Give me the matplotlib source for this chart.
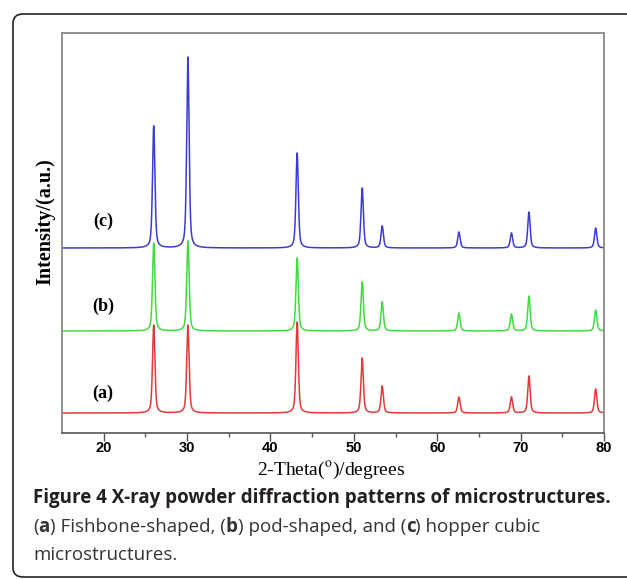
import numpy as np
import matplotlib.pyplot as plt
from matplotlib.patches import FancyBboxPatch

plt.rcParams['mathtext.fontset'] = 'stix'

# peak positions (2-theta, degrees) and peak heights
peak_pos = [26.0, 30.1, 43.2, 51.0, 53.4, 62.6, 68.9, 71.0, 79.0]
heights_a = [88, 88, 91, 55, 27, 16, 16, 37, 24]
heights_b = [88, 90, 73, 49, 29, 18, 17, 35, 21]
heights_c = [122, 191, 95, 60, 22, 16, 15, 36, 20]
offsets = [0, 82, 165]
labels = ['(a)', '(b)', '(c)']
label_dy = [20, 25, 27]
colors = ['#e03a3a', '#40dc40', '#3c3cd2']
xticks = [20, 30, 40, 50, 60, 70, 80]

W, H = 627, 579


def pattern(x, heights, w=0.17, eta=0.5):
    y = np.zeros_like(x)
    for p, h in zip(peak_pos, heights):
        lor = 1 / (1 + ((x - p) / w) ** 2)
        gau = np.exp(-np.log(2) * ((x - p) / w) ** 2)
        y += h * (eta * lor + (1 - eta) * gau)
    return y


fig = plt.figure(figsize=(W / 100, H / 100), dpi=100)

# outer rounded frame
box = FancyBboxPatch((13 / W, 1 - 577 / H), 700 / W, (577 - 14) / H,
                     boxstyle='round,pad=0,rounding_size=0.016',
                     transform=fig.transFigure, fill=False,
                     edgecolor='#222222', linewidth=1.2)
fig.patches.append(box)

ax = fig.add_axes([62 / W, 1 - 433 / H, (604 - 62) / W, (433 - 33) / H])

x = np.linspace(15, 80, 5000)
for heights, off, col, lab, dy in zip([heights_a, heights_b, heights_c],
                                      offsets, colors, labels, label_dy):
    ax.plot(x, pattern(x, heights) + off, color=col, linewidth=1.1)
    ax.text(19.9, off + dy, lab, fontsize=13, fontweight='bold',
            family='Liberation Serif', ha='center', va='center')

ax.set_xlim(15, 80)
ax.set_ylim(-20, 380)
ax.set_xticks(xticks)
ax.set_xticks(np.arange(25, 80, 10), minor=True)
ax.set_yticks([])
ax.tick_params(axis='x', which='major', length=6, width=1, color='#555555',
               pad=0, labelsize=10.5)
ax.tick_params(axis='x', which='minor', length=3, width=1, color='#555555')
for lbl in ax.get_xticklabels():
    lbl.set_fontweight('bold')
    lbl.set_family('Liberation Sans')
for s in ['top', 'right', 'left']:
    ax.spines[s].set_color('#8a8a8a')
    ax.spines[s].set_linewidth(1.3)
ax.spines['bottom'].set_color('#555555')
ax.spines['bottom'].set_linewidth(1.2)

ax.set_xlabel(r'2-Theta($^{\rm o}$)/degrees', family='Liberation Serif',
              fontsize=14)
ax.xaxis.set_label_coords(0.496, (433 - 470) / 400)
ax.xaxis.label.set_va('center')
ax.set_ylabel('Intensity/(a.u.)', family='Liberation Serif',
              fontweight='bold', fontsize=14.5)
ax.yaxis.set_label_coords((45 - 62) / 542, (433 - 222) / 400)
ax.yaxis.label.set_va('center')

# caption
fs = 13.5
fig.text(33 / W, 1 - 498 / H,
         'Figure 4 X-ray powder diffraction patterns of microstructures.',
         family='Open Sans', fontweight='bold', fontsize=fs,
         color='#231f20', va='center')

pieces = [('(', 'normal'), ('a', 'bold'), (') Fishbone-shaped, (', 'normal'),
          ('b', 'bold'), (') pod-shaped, and (', 'normal'), ('c', 'bold'),
          (') hopper cubic', 'normal')]
renderer = fig.canvas.get_renderer()
xpos = 33
for txt, wt in pieces:
    t = fig.text(xpos / W, 1 - 527 / H, txt, family='Open Sans',
                 fontweight=wt, fontsize=fs, color='#333333', va='center')
    xpos += t.get_window_extent(renderer).width
fig.text(33 / W, 1 - 555 / H, 'microstructures.', family='Open Sans',
         fontsize=fs, color='#333333', va='center')

fig.savefig('out.png', dpi=100)
